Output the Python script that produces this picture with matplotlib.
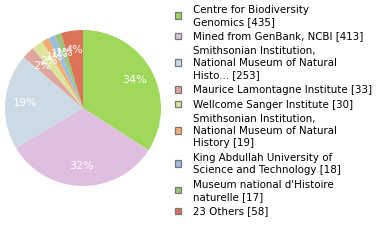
import matplotlib.pyplot as plt
from matplotlib.patches import Rectangle

# data
labels = [
    "Centre for Biodiversity\nGenomics [435]",
    "Mined from GenBank, NCBI [413]",
    "Smithsonian Institution,\nNational Museum of Natural\nHisto... [253]",
    "Maurice Lamontagne Institute [33]",
    "Wellcome Sanger Institute [30]",
    "Smithsonian Institution,\nNational Museum of Natural\nHistory [19]",
    "King Abdullah University of\nScience and Technology [18]",
    "Museum national d'Histoire\nnaturelle [17]",
    "23 Others [58]",
]
counts = [435, 413, 253, 33, 30, 19, 18, 17, 58]
colors = ['#a0d95a', '#dfbfe0', '#ccdae6', '#e0a59c', '#dde49c',
          '#f1ae72', '#9dbde0', '#9dc47b', '#dc7257']

fig = plt.figure(figsize=(3.8, 2.4), dpi=100)

# pie, centre at (83,108) px, radius 78 px
ax = fig.add_axes([5/380, 54/240, 156/380, 156/240])
ax.pie(counts, colors=colors, startangle=90, counterclock=False,
       autopct=lambda p: '%d%%' % int(p), pctdistance=0.75,
       wedgeprops=dict(linewidth=0),
       textprops=dict(color='white', fontsize=8))
ax.set_xlim(-1, 1)
ax.set_ylim(-1, 1)

# legend drawn in pixel coords
lg = fig.add_axes([0, 0, 1, 1])
lg.set_xlim(0, 380)
lg.set_ylim(240, 0)
lg.axis('off')

line_h = 12
gap = 2.7
base = 12.7
for lab, col in zip(labels, colors):
    lines = lab.split('\n')
    n = len(lines)
    cy = base - 3.5 + (n - 1) * line_h / 2
    lg.add_patch(Rectangle((174.5, cy - 3.2), 6.5, 6.5, facecolor=col,
                           edgecolor='#777777', linewidth=0.9))
    for i, ln in enumerate(lines):
        lg.text(193, base + i * line_h, ln, fontsize=7.4, va='baseline',
                ha='left', color='black')
    base += n * line_h + gap

fig.savefig('out.png', dpi=100)
